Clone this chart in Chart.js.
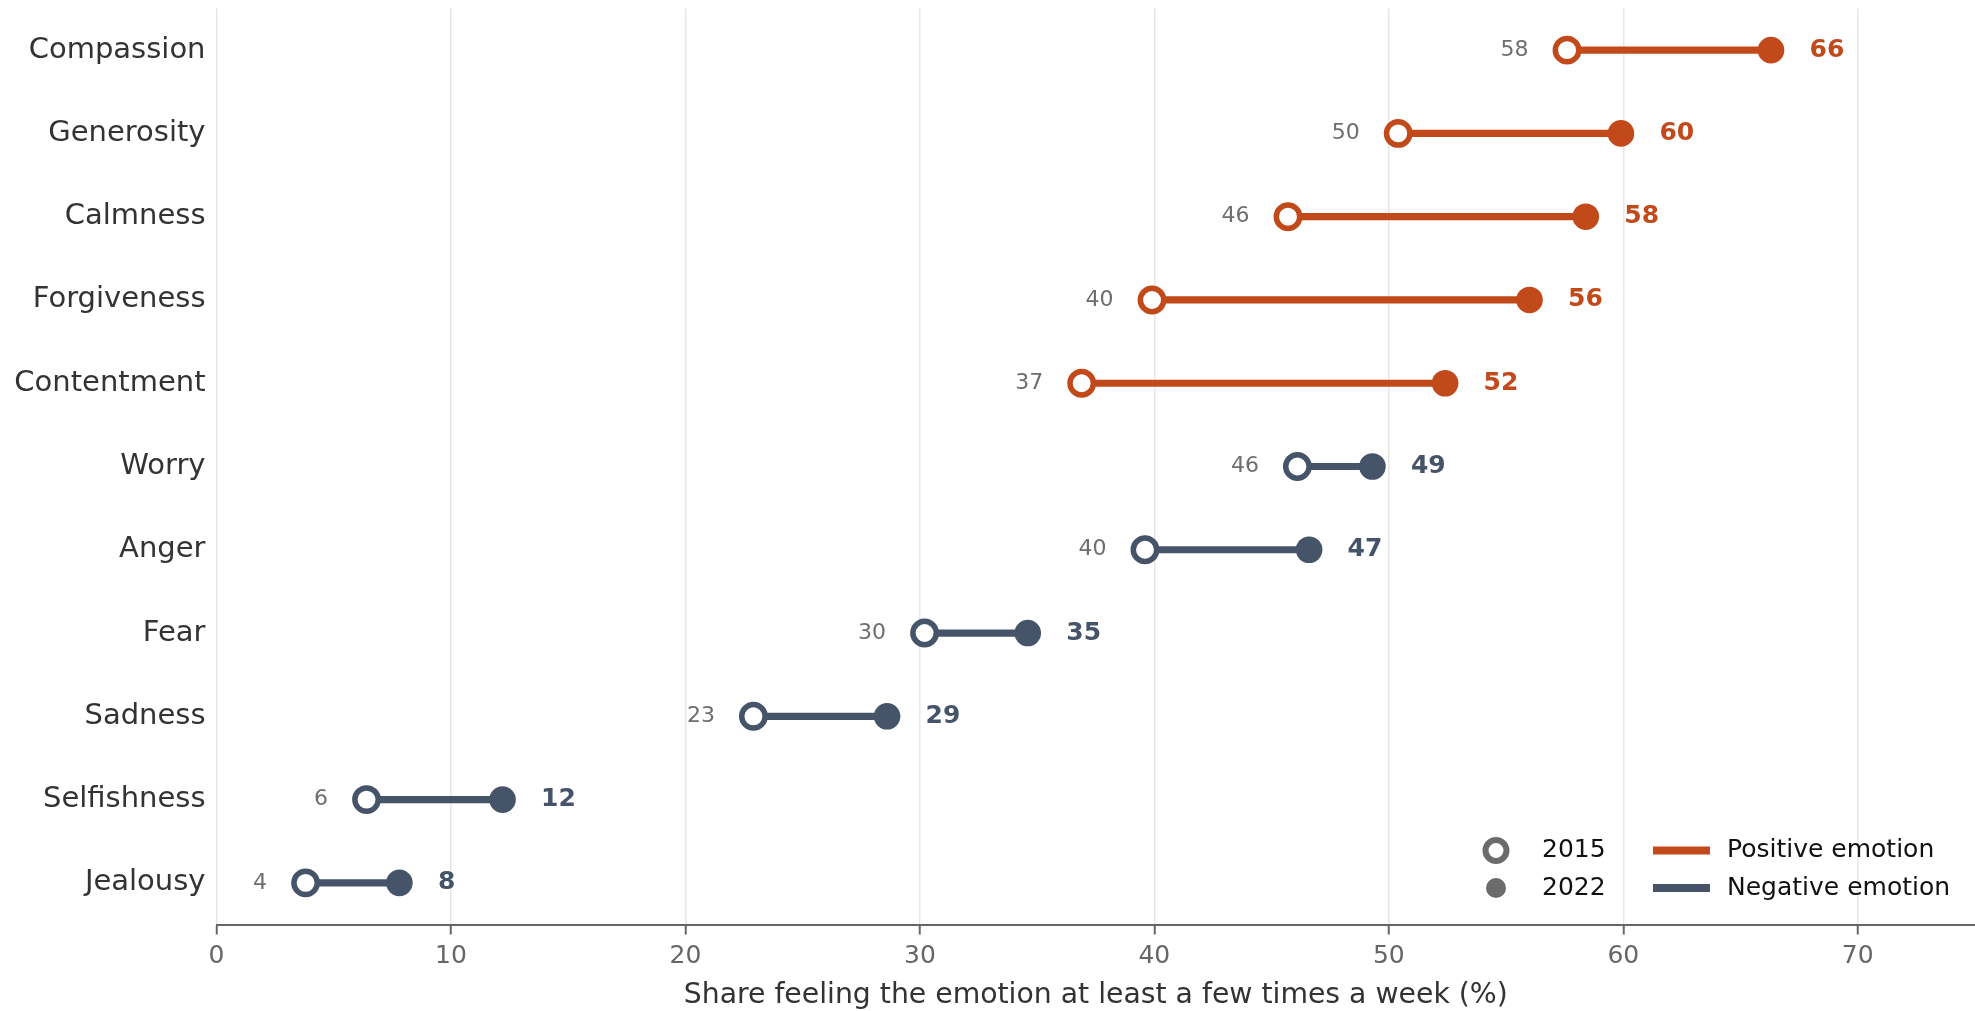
<!DOCTYPE html>
<html>
<head>
<meta charset="utf-8">
<script src="https://cdn.jsdelivr.net/npm/chart.js@4.4.1/dist/chart.umd.min.js"></script>
<style>
  html, body { margin: 0; padding: 0; background: #ffffff; }
  #wrap { width: 1975px; height: 1011px; }
</style>
</head>
<body>
<div id="wrap"><canvas id="chart" width="1975" height="1011"></canvas></div>
<script>
// Emotions, top to bottom
const categories = ['Compassion', 'Generosity', 'Calmness', 'Forgiveness', 'Contentment',
  'Worry', 'Anger', 'Fear', 'Sadness', 'Selfishness', 'Jealousy'];
// Share feeling each emotion at least a few times a week (%)
const values2015 = [57.6, 50.4, 45.7, 39.9, 36.9, 46.1, 39.6, 30.2, 22.9, 6.4, 3.8];
const values2022 = [66.3, 59.9, 58.4, 56.0, 52.4, 49.3, 46.6, 34.6, 28.6, 12.2, 7.8];
const emotionType = ['positive', 'positive', 'positive', 'positive', 'positive',
  'negative', 'negative', 'negative', 'negative', 'negative', 'negative'];
const xTicks = [0, 10, 20, 30, 40, 50, 60, 70];
const yearLabels = ['2015', '2022'];
const typeLabels = { positive: 'Positive emotion', negative: 'Negative emotion' };

const FONT = "'DejaVu Sans', 'Liberation Sans', sans-serif";
const palette = { positive: '#c2491a', negative: '#46546a' };
const colorFor = emotionType.map(t => palette[t]);

// Value labels next to each end of every dumbbell
const valueLabels = {
  id: 'valueLabels',
  afterDatasetsDraw(chart) {
    const ctx = chart.ctx;
    const openMeta = chart.getDatasetMeta(1);
    const fillMeta = chart.getDatasetMeta(2);
    ctx.save();
    ctx.textBaseline = 'middle';
    openMeta.data.forEach((pt, i) => {
      ctx.font = '22px ' + FONT;
      ctx.fillStyle = '#6e6e6e';
      ctx.textAlign = 'right';
      ctx.fillText(String(Math.round(values2015[i])), pt.x - 38.5, pt.y);
    });
    fillMeta.data.forEach((pt, i) => {
      ctx.font = 'bold 25px ' + FONT;
      ctx.fillStyle = colorFor[i];
      ctx.textAlign = 'left';
      ctx.fillText(String(Math.round(values2022[i])), pt.x + 38.5, pt.y);
    });
    ctx.restore();
  }
};

// Two-column key in the lower right corner of the plot
const cornerKey = {
  id: 'cornerKey',
  afterDraw(chart) {
    const ctx = chart.ctx;
    const area = chart.chartArea;
    const row1 = area.bottom - 74;
    const row2 = area.bottom - 36.5;
    const mx = area.right - 479;
    ctx.save();
    ctx.font = '25px ' + FONT;
    ctx.textBaseline = 'middle';
    ctx.textAlign = 'left';

    // year markers
    ctx.beginPath();
    ctx.arc(mx, row1, 10.5, 0, Math.PI * 2);
    ctx.fillStyle = '#ffffff';
    ctx.fill();
    ctx.lineWidth = 6;
    ctx.strokeStyle = '#6b6b6b';
    ctx.stroke();
    ctx.beginPath();
    ctx.arc(mx, row2, 10, 0, Math.PI * 2);
    ctx.fillStyle = '#6b6b6b';
    ctx.fill();
    ctx.fillStyle = '#111111';
    ctx.fillText(yearLabels[0], mx + 46, row1);
    ctx.fillText(yearLabels[1], mx + 46, row2);

    // emotion type swatches
    const lx0 = area.right - 322;
    const lx1 = area.right - 265;
    ctx.lineWidth = 8;
    ctx.lineCap = 'butt';
    ctx.strokeStyle = palette.positive;
    ctx.beginPath(); ctx.moveTo(lx0, row1); ctx.lineTo(lx1, row1); ctx.stroke();
    ctx.strokeStyle = palette.negative;
    ctx.beginPath(); ctx.moveTo(lx0, row2); ctx.lineTo(lx1, row2); ctx.stroke();
    ctx.fillText(typeLabels.positive, area.right - 248, row1);
    ctx.fillText(typeLabels.negative, area.right - 248, row2);
    ctx.restore();
  }
};

new Chart(document.getElementById('chart'), {
  data: {
    labels: categories,
    datasets: [
      {
        type: 'bar',
        data: categories.map((c, i) => [values2015[i], values2022[i]]),
        backgroundColor: colorFor,
        borderWidth: 0,
        borderSkipped: false,
        barThickness: 6.5,
        order: 3
      },
      {
        type: 'line',
        data: values2015,
        showLine: false,
        pointRadius: 11.7,
        pointHoverRadius: 11.7,
        pointBorderWidth: 5.5,
        pointBackgroundColor: '#ffffff',
        pointBorderColor: colorFor,
        order: 2
      },
      {
        type: 'line',
        data: values2022,
        showLine: false,
        pointRadius: 13.3,
        pointHoverRadius: 13.3,
        pointBorderWidth: 0,
        pointBackgroundColor: colorFor,
        pointBorderColor: colorFor,
        order: 1
      }
    ]
  },
  options: {
    indexAxis: 'y',
    responsive: false,
    animation: false,
    devicePixelRatio: 1,
    layout: { autoPadding: false, padding: { top: 8.5, right: 0, bottom: 0, left: 0 } },
    plugins: {
      legend: { display: false },
      tooltip: { enabled: false }
    },
    scales: {
      x: {
        type: 'linear',
        position: 'bottom',
        min: 0,
        max: 75,
        afterBuildTicks: scale => { scale.ticks = xTicks.map(v => ({ value: v })); },
        afterFit: scale => {
          scale.height = 86.5;
          scale.paddingLeft = 0;
          scale.paddingRight = 0;
        },
        grid: {
          color: '#e6e6e6',
          lineWidth: 1.5,
          drawTicks: true,
          tickLength: 10,
          tickColor: '#666666',
          tickWidth: 2
        },
        border: { display: true, color: '#666666', width: 2 },
        ticks: {
          color: '#666666',
          font: { family: FONT, size: 25 },
          padding: 7,
          maxRotation: 0
        },
        title: {
          display: true,
          text: 'Share feeling the emotion at least a few times a week (%)',
          color: '#333333',
          font: { family: FONT, size: 28.3, lineHeight: 1.1 },
          padding: { top: 0, bottom: 0 }
        }
      },
      y: {
        type: 'category',
        offset: true,
        afterFit: scale => {
          scale.width = 216.5;
          scale.paddingTop = 0;
          scale.paddingBottom = 0;
        },
        grid: { display: false, drawTicks: false },
        border: { display: false },
        ticks: {
          color: '#333333',
          font: { family: FONT, size: 29 },
          padding: 11
        }
      }
    }
  },
  plugins: [valueLabels, cornerKey]
});
</script>
</body>
</html>
